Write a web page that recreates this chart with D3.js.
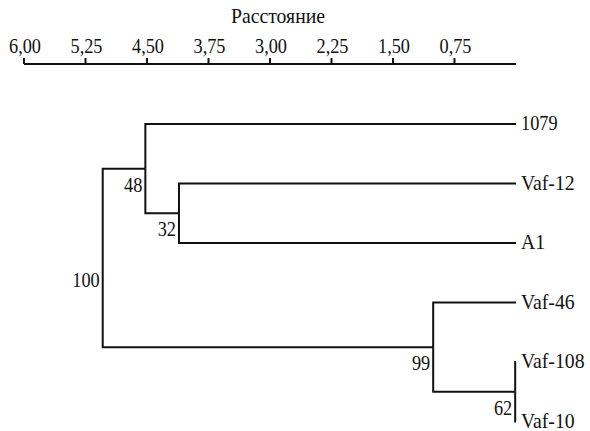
<!DOCTYPE html>
<html>
<head>
<meta charset="utf-8">
<script src="https://cdn.jsdelivr.net/npm/d3@7"></script>
<style>
  body { margin: 0; background: #fff; }
</style>
</head>
<body>
<div id="chart"></div>
<script>
// leaves, top to bottom
const leafNames = ['1079', 'Vaf-12', 'A1', 'Vaf-46', 'Vaf-108', 'Vaf-10'];
// joins: children (leaf name or join id), distance, bootstrap support
const joinIds = ['j62', 'j32', 'j48', 'j99', 'j100'];
const joinLeft = ['Vaf-108', 'Vaf-12', '1079', 'Vaf-46', 'j48'];
const joinRight = ['Vaf-10', 'A1', 'j32', 'j62', 'j99'];
const joinHeight = [0.01, 4.11, 4.52, 1.01, 5.04];
const joinSupport = [62, 32, 48, 99, 100];
const axisTicks = [6, 5.25, 4.5, 3.75, 3, 2.25, 1.5, 0.75];
const axisTitle = 'Расстояние';

const width = 590;
const height = 431;

const svg = d3.select('#chart').append('svg')
  .attr('width', width)
  .attr('height', height);

const x = d3.scaleLinear().domain([6, 0]).range([24, 516]);
const leafY = d3.scalePoint().domain(leafNames).range([124, 421.5]);

// build tree from the join arrays
const build = (name) => {
  const k = joinIds.indexOf(name);
  if (k < 0) return { name, h: 0 };
  return {
    name,
    h: joinHeight[k],
    support: joinSupport[k],
    children: [build(joinLeft[k]), build(joinRight[k])],
  };
};
const root = d3.hierarchy(build(joinIds[joinIds.length - 1]));
root.eachAfter(d => {
  d.y = d.children ? d3.mean(d.children, c => c.y) : leafY(d.data.name);
});

// slightly condensed serif text (digits narrower than in the plain font)
const label = (g, px, py, str, anchor) => {
  const sx = /^[\d,]+$/.test(String(str)) ? 0.87 : 0.94;
  return g.append('text')
    .attr('transform', `translate(${px},${py}) scale(${sx},1)`)
    .attr('text-anchor', anchor)
    .attr('font-family', 'Liberation Serif, DejaVu Serif, serif')
    .attr('font-size', 21)
    .attr('fill', '#111')
    .text(str);
};

// axis
const axisY = 64;
const axis = svg.append('g');
axis.append('line')
  .attr('x1', x(6)).attr('x2', x(0))
  .attr('y1', axisY).attr('y2', axisY)
  .attr('stroke', '#111').attr('stroke-width', 2);
axis.selectAll('.tick').data(axisTicks).enter().append('line')
  .attr('x1', d => x(d)).attr('x2', d => x(d))
  .attr('y1', axisY - 6).attr('y2', axisY)
  .attr('stroke', '#111').attr('stroke-width', 2);
axisTicks.forEach(t => label(axis, x(t) + 1, 53, t.toFixed(2).replace('.', ','), 'middle'));
label(axis, 278, 23, axisTitle, 'middle');

// branches
const links = svg.append('g')
  .attr('fill', 'none')
  .attr('stroke', '#111')
  .attr('stroke-width', 2);
root.links().forEach(({ source, target }) => {
  links.append('path')
    .attr('d', `M${x(source.data.h)},${source.y}V${target.y}H${x(target.data.h)}`);
});

// leaf labels
root.leaves().forEach(d => label(svg, 521, d.y + 6, d.data.name, 'start'));

// support values
root.descendants().filter(d => d.children).forEach(d => {
  label(svg, x(d.data.h) - 3, d.y + (d.parent ? 23 : 29), d.data.support, 'end');
});
</script>
</body>
</html>
